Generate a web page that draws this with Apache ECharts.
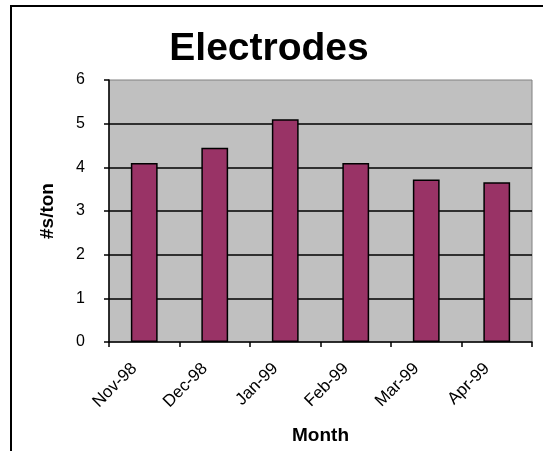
<!DOCTYPE html>
<html>
<head>
<meta charset="utf-8">
<script src="https://cdn.jsdelivr.net/npm/echarts@6/dist/echarts.min.js"></script>
<style>
  html, body { margin: 0; padding: 0; background: #fff; }
  #chart { width: 543px; height: 451px; }
</style>
</head>
<body>
<div id="chart"></div>
<script>
  // data
  var months = ['Nov-98', 'Dec-98', 'Jan-99', 'Feb-99', 'Mar-99', 'Apr-99']
  var perTon = [4.1, 4.45, 5.1, 4.1, 3.72, 3.66]
  var yTicks = [0, 1, 2, 3, 4, 5, 6]

  var chart = echarts.init(document.getElementById('chart'))

  chart.setOption({
    animation: false,
    textStyle: { fontFamily: 'Liberation Sans, Arial, sans-serif' },
    graphic: [{
      type: 'rect',
      shape: { x: 11, y: 6, width: 600, height: 500 },
      style: { fill: 'none', stroke: '#000', lineWidth: 2 },
      silent: true
    }],
    title: {
      text: 'Electrodes',
      left: 264,
      textAlign: 'center',
      top: 25,
      textStyle: { fontSize: 39, fontWeight: 'bold', color: '#000' }
    },
    grid: {
      left: 109,
      right: 11,
      top: 80,
      bottom: 109,
      show: true,
      backgroundColor: '#c0c0c0',
      borderColor: '#808080',
      borderWidth: 1
    },
    xAxis: {
      type: 'category',
      data: months,
      name: 'Month',
      nameLocation: 'middle',
      nameGap: 84,
      nameTextStyle: { fontSize: 19, fontWeight: 'bold', color: '#000' },
      axisLine: { lineStyle: { color: '#000', width: 1.5 } },
      axisTick: { show: true, length: 5, lineStyle: { color: '#000', width: 1.5 } },
      axisLabel: {
        rotate: 45,
        fontSize: 17,
        color: '#000',
        margin: 14,
        padding: [0, 14, 0, 0],
        interval: 0
      }
    },
    yAxis: {
      type: 'value',
      min: yTicks[0],
      max: yTicks[yTicks.length - 1],
      interval: 1,
      name: '#s/ton',
      nameLocation: 'middle',
      nameGap: 52,
      nameTextStyle: { fontSize: 19, fontWeight: 'bold', color: '#000' },
      axisLine: { show: true, lineStyle: { color: '#000', width: 1.5 } },
      axisTick: { show: true, length: 5, lineStyle: { color: '#000', width: 1.5 } },
      axisLabel: { fontSize: 16, color: '#000', margin: 24 },
      splitLine: { show: true, showMinLine: false, showMaxLine: false, lineStyle: { color: '#000', width: 1.5 } }
    },
    series: [{
      name: '#s/ton',
      type: 'bar',
      data: perTon,
      barWidth: '38%',
      itemStyle: { color: '#993366', borderColor: '#000', borderWidth: 1.5 }
    }]
  })
</script>
</body>
</html>
